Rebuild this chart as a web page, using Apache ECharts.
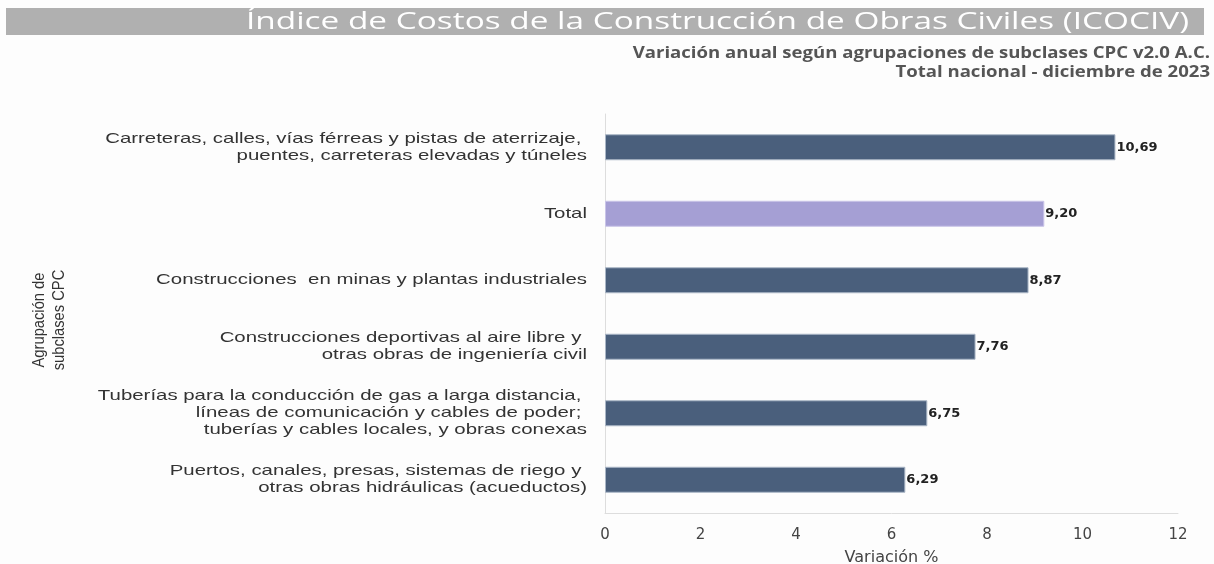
<!DOCTYPE html>
<html>
<head>
<meta charset="utf-8">
<script src="https://cdn.jsdelivr.net/npm/echarts@6/dist/echarts.min.js"></script>
<style>
html,body{margin:0;padding:0;background:#fdfdfd;}
#chart{width:1214px;height:564px;}
</style>
</head>
<body>
<div id="chart"></div>
<script>
var titleText = 'Índice de Costos de la Construcción de Obras Civiles (ICOCIV)';
var subtitleText = 'Variación anual según agrupaciones de subclases CPC v2.0 A.C.\nTotal nacional - diciembre de 2023';
var categories = [
  'Carreteras, calles, vías férreas y pistas de aterrizaje, \npuentes, carreteras elevadas y túneles',
  'Total',
  'Construcciones  en minas y plantas industriales',
  'Construcciones deportivas al aire libre y \notras obras de ingeniería civil',
  'Tuberías para la conducción de gas a larga distancia, \nlíneas de comunicación y cables de poder; \ntuberías y cables locales, y obras conexas',
  'Puertos, canales, presas, sistemas de riego y \notras obras hidráulicas (acueductos)'
];
var values = [10.69, 9.20, 8.87, 7.76, 6.75, 6.29];
var highlightCategory = 'Total';
var xAxisName = 'Variación %';
var yAxisName = 'Agrupación de\nsubclases CPC';

var chart = echarts.init(document.getElementById('chart'));
var seriesData = values.map(function (v, i) {
  var isTotal = categories[i] === highlightCategory;
  return {
    value: v,
    itemStyle: {
      color: isTotal ? '#a59fd4' : '#4a5f7c',
      borderColor: isTotal ? '#c9c4e8' : '#aab6c6',
      borderWidth: 1
    }
  };
});

var baseGraphics = [
  { id: 'band', type: 'rect', shape: { x: 6, y: 8, width: 1198, height: 27 }, style: { fill: '#b0b0b0' }, z: 0 },
  { id: 'title', type: 'text', x: 1189, y: 22, scaleX: 1.39, style: { text: titleText, fill: '#ffffff', font: '24px "Open Sans"', align: 'right', verticalAlign: 'middle' }, z: 1 },
  { id: 'subtitle', type: 'text', x: 1210, y: 62.5, scaleX: 1.16, style: { text: subtitleText, fill: '#555555', font: 'bold 16px "Open Sans"', align: 'right', verticalAlign: 'middle', lineHeight: 19 }, z: 1 },
  { id: 'yname', type: 'text', x: 50, y: 320, rotation: Math.PI / 2, scaleX: 0.92, style: { text: yAxisName, fill: '#333333', font: '16px "Liberation Sans", Arial', align: 'center', verticalAlign: 'middle', lineHeight: 20 }, z: 1 }
];

chart.setOption({
  backgroundColor: '#fdfdfd',
  animation: false,
  graphic: baseGraphics,
  grid: { left: 605, right: 36, top: 114, bottom: 51, containLabel: false, outerBoundsMode: 'none' },
  xAxis: {
    type: 'value',
    min: 0, max: 12, interval: 2,
    name: xAxisName,
    nameLocation: 'middle',
    nameGap: 37,
    nameTextStyle: { color: '#444', fontSize: 16, fontFamily: 'DejaVu Sans' },
    axisLine: { show: true, lineStyle: { color: '#dddddd' } },
    axisTick: { show: false },
    splitLine: { show: false },
    axisLabel: { color: '#444', fontSize: 15, fontFamily: 'DejaVu Sans', margin: 15 }
  },
  yAxis: {
    type: 'category',
    inverse: true,
    data: categories,
    axisLine: { show: true, lineStyle: { color: '#dddddd' } },
    axisTick: { show: false },
    axisLabel: { show: false }
  },
  series: [{
    type: 'bar',
    data: seriesData,
    barWidth: 26,
    label: {
      show: true,
      position: 'right',
      distance: 1,
      color: '#222',
      fontWeight: 'bold',
      fontSize: 13,
      fontFamily: 'DejaVu Sans',
      formatter: function (p) { return p.value.toFixed(2).replace('.', ','); }
    }
  }]
});

// Category labels drawn as horizontally-stretched text, positioned through the axis scales
var axisX = chart.convertToPixel({ xAxisIndex: 0 }, 0);
var labelGraphics = categories.map(function (c, i) {
  var y = chart.convertToPixel({ yAxisIndex: 0 }, c);
  return {
    id: 'cat' + i, type: 'text', x: axisX - 18, y: y, scaleX: 1.36,
    style: { text: c, fill: '#333333', font: '15px "Liberation Sans", Arial', align: 'right', verticalAlign: 'middle', lineHeight: 17 },
    z: 1
  };
});
chart.setOption({ graphic: baseGraphics.concat(labelGraphics) });
</script>
</body>
</html>
